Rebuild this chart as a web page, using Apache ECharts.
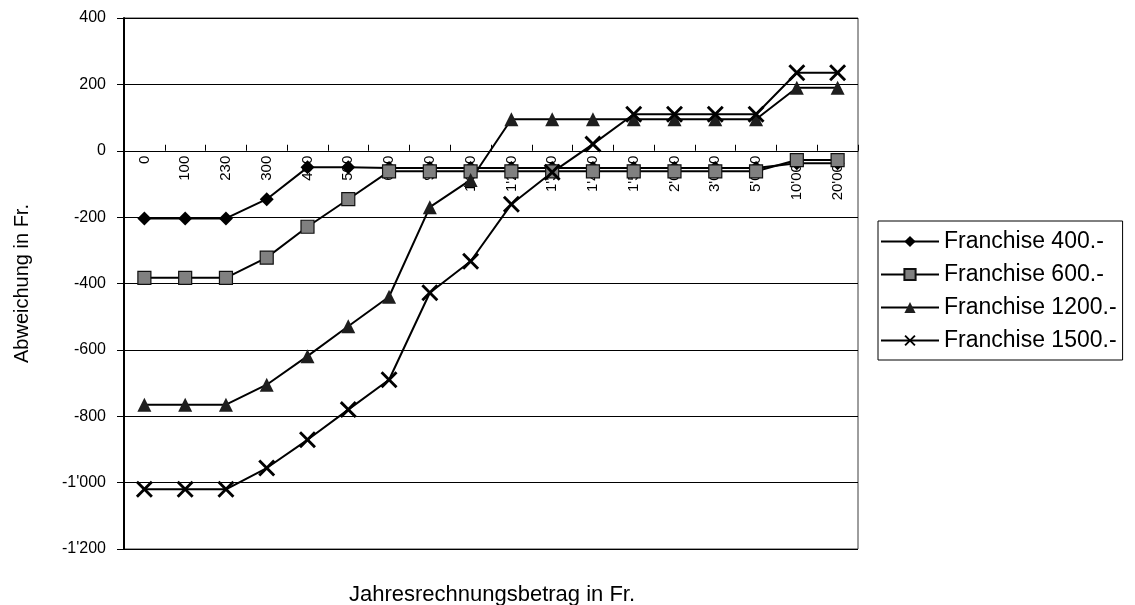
<!DOCTYPE html>
<html>
<head>
<meta charset="utf-8">
<script src="https://cdn.jsdelivr.net/npm/echarts@6/dist/echarts.min.js"></script>
<style>
  html, body { margin: 0; padding: 0; background: #fff; }
  #chart { width: 1135px; height: 605px; }
</style>
</head>
<body>
<div id="chart"></div>
<script>
// Annual invoice amounts (category axis)
const categories = ['0', '100', '230', '300', '400', '500', '600', '900', "1'000", "1'200",
  "1'300", "1'400", "1'500", "2'000", "3'000", "5'000", "10'000", "20'000"];

// Deviation in Fr. per deductible level
const franchise400 = [-204, -204, -204, -146, -50, -50, -52, -52, -52, -52, -52, -52, -52, -52, -52, -52, -38, -38];
const franchise600 = [-383, -383, -383, -322, -229, -146, -62, -62, -62, -62, -62, -62, -62, -62, -62, -62, -28, -28];
const franchise1200 = [-765, -765, -765, -705, -619, -529, -440, -170, -88, 95, 95, 95, 95, 95, 95, 95, 190, 190];
const franchise1500 = [-1020, -1020, -1020, -956, -871, -780, -690, -428, -333, -161, -65, 20, 110, 110, 110, 110, 235, 235];

const seriesNames = ['Franchise 400.-', 'Franchise 600.-', 'Franchise 1200.-', 'Franchise 1500.-'];

// Value axis range and tick step
const yMin = -1200, yMax = 400, yStep = 200;

const FONT = '"Liberation Sans", Arial, Helvetica, sans-serif';
const crossPath = 'path://M0,1.2L1.2,0L5,3.8L8.8,0L10,1.2L6.2,5L10,8.8L8.8,10L5,6.2L1.2,10L0,8.8L3.8,5Z';

// Plot rectangle
const W = 1135, H = 605;
const gridBox = { left: 124, right: 277, top: 18, bottom: 56 };
const plotHeight = H - gridBox.top - gridBox.bottom;
// The category axis sits on the zero line: shift it up from the plot bottom
const zeroOffset = -plotHeight * (0 - yMin) / (yMax - yMin);

function swissNumber(v) {
  const s = String(Math.abs(v)).replace(/\B(?=(\d{3})+(?!\d))/g, "'");
  return (v < 0 ? '-' : '') + s;
}

function lineSeries(name, data, symbol, size, fill, border) {
  return {
    name: name,
    type: 'line',
    data: data,
    symbol: symbol,
    symbolSize: size,
    showAllSymbol: true,
    lineStyle: { color: '#000', width: 2 },
    itemStyle: { color: fill, borderColor: '#111', borderWidth: border },
    emphasis: { disabled: true },
    animation: false
  };
}

const chart = echarts.init(document.getElementById('chart'), null, { renderer: 'canvas' });
chart.setOption({
  backgroundColor: '#fff',
  textStyle: { fontFamily: FONT, color: '#000' },
  grid: Object.assign({}, gridBox, {
    show: true, borderColor: '#3c3c3c', borderWidth: 1, backgroundColor: 'transparent'
  }),
  title: {
    text: 'Jahresrechnungsbetrag in Fr.',
    left: 487, top: 579, textAlign: 'center',
    textStyle: { fontFamily: FONT, fontSize: 22, fontWeight: 'normal', color: '#000' }
  },
  legend: {
    orient: 'vertical',
    left: 878, top: 221,
    padding: [9, 6, 8, 2],
    itemWidth: 58, itemHeight: 14,
    itemGap: 10,
    borderColor: '#000', borderWidth: 1,
    backgroundColor: '#fff',
    textStyle: { fontFamily: FONT, fontSize: 23, lineHeight: 23, color: '#000' },
    data: seriesNames
  },
  xAxis: {
    type: 'category',
    data: categories,
    boundaryGap: true,
    offset: zeroOffset,
    axisLine: { onZero: false, lineStyle: { color: '#000', width: 1 } },
    axisTick: { show: true, inside: true, length: 6, lineStyle: { color: '#000' } },
    axisLabel: {
      interval: 0, rotate: 90, margin: 5,
      fontFamily: FONT, fontSize: 15, color: '#000'
    },
    splitLine: { show: false }
  },
  yAxis: {
    type: 'value',
    min: yMin, max: yMax, interval: yStep,
    name: 'Abweichung in Fr.',
    nameLocation: 'middle',
    nameGap: 92,
    nameTextStyle: { fontFamily: FONT, fontSize: 20, color: '#000' },
    axisLine: { show: true, lineStyle: { color: '#000', width: 2 } },
    axisTick: { show: true, length: 7, lineStyle: { color: '#000' } },
    axisLabel: {
      margin: 18, fontFamily: FONT, fontSize: 16, color: '#000',
      formatter: swissNumber
    },
    splitLine: { show: true, lineStyle: { color: '#000', width: 1 } }
  },
  series: [
    lineSeries(seriesNames[0], franchise400, 'diamond', 14, '#000', 0),
    lineSeries(seriesNames[1], franchise600, 'rect', 13, '#808080', 1.2),
    lineSeries(seriesNames[2], franchise1200, 'triangle', 14, '#1e1e1e', 0),
    lineSeries(seriesNames[3], franchise1500, crossPath, 17, '#000', 0)
  ]
});
</script>
</body>
</html>
